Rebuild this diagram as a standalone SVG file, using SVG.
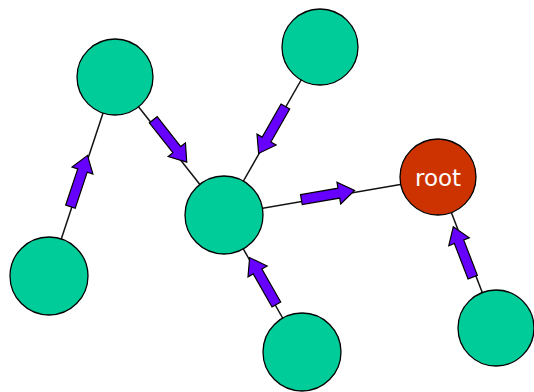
<svg xmlns="http://www.w3.org/2000/svg" width="534" height="392" viewBox="0 0 534 392">
<style>
.edge{stroke:#111;stroke-width:1.5;fill:none}
.arr{fill:#6600FF;stroke:#000;stroke-width:1.2;stroke-linejoin:miter}
.node{fill:#00CC99;stroke:#000;stroke-width:1.3}
.root{fill:#CC3300;stroke:#000;stroke-width:1.3}
.lbl{font-family:"DejaVu Sans",sans-serif;font-size:23px;fill:#fff;text-anchor:middle}
</style>
<defs>
<path id="a" d="M-27,-5 L11,-5 L11,-11 L27,0 L11,11 L11,5 L-27,5 Z"/>
</defs>
<rect width="534" height="392" fill="#fff"/>
<g id="connectors">
<line class="edge" x1="49" y1="276" x2="115" y2="77"/>
<line class="edge" x1="115" y1="77" x2="224" y2="215"/>
<line class="edge" x1="320" y1="47" x2="224" y2="215"/>
<line class="edge" x1="224" y1="215" x2="438" y2="178"/>
<line class="edge" x1="302" y1="352" x2="224" y2="215"/>
<line class="edge" x1="496" y1="328" x2="438" y2="178"/>
<use href="#a" class="arr" transform="translate(79,181) rotate(-71.6)"/>
<use href="#a" class="arr" transform="translate(170,141) rotate(51.7)"/>
<use href="#a" class="arr" transform="translate(272,130) rotate(119.7)"/>
<use href="#a" class="arr" transform="translate(328,195) rotate(-9.8)"/>
<use href="#a" class="arr" transform="translate(263,281) rotate(-119.7)"/>
<use href="#a" class="arr" transform="translate(463,252) rotate(-111.1)"/>
</g>
<g id="n1"><circle class="node" cx="115" cy="77" r="38"/></g>
<g id="n2"><circle class="node" cx="320" cy="47" r="38"/></g>
<g id="n3"><circle class="node" cx="224" cy="215" r="39"/></g>
<g id="root"><circle class="root" cx="438" cy="177" r="38"/><text class="lbl" x="438" y="186">root</text></g>
<g id="n4"><circle class="node" cx="49" cy="276" r="39"/></g>
<g id="n5"><circle class="node" cx="302" cy="352" r="39"/></g>
<g id="n6"><circle class="node" cx="496" cy="328" r="38"/></g>
</svg>
